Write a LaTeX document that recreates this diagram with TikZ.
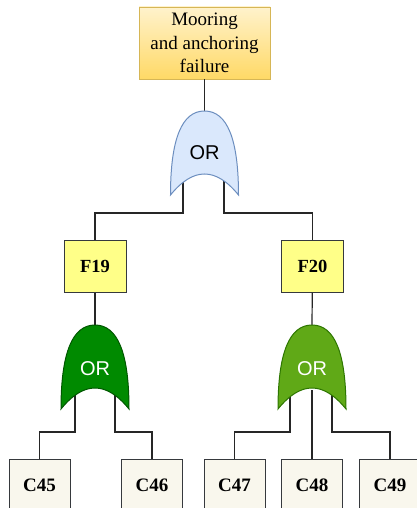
\documentclass[tikz,border=0pt]{standalone}
\usepackage{fontspec}
\setmainfont{Liberation Serif}
\newfontfamily\gatefont{Liberation Sans}
\definecolor{toptop}{HTML}{FFF2CC}
\definecolor{topbottom}{HTML}{FFD966}
\definecolor{topline}{HTML}{D6B656}
\definecolor{evfill}{HTML}{FFFF88}
\definecolor{basfill}{HTML}{F9F7ED}
\definecolor{boxline}{HTML}{36393D}
\definecolor{blufill}{HTML}{DAE8FC}
\definecolor{bluline}{HTML}{6C8EBF}
\definecolor{dkgfill}{HTML}{008A00}
\definecolor{dkgline}{HTML}{005700}
\definecolor{olvfill}{HTML}{60A917}
\definecolor{olvline}{HTML}{2D7600}
\begin{document}
\begin{tikzpicture}[
  x=1pt, y=-1pt,
  wire/.style={line width=1.2pt, draw=black!85},
  topbox/.style={rectangle, draw=topline, line width=0.9pt, top color=toptop, bottom color=topbottom,
    minimum width=131pt, minimum height=72pt, inner sep=0pt, align=center,
    font=\fontsize{19}{23.5}\selectfont},
  evbox/.style={rectangle, draw=boxline, line width=1pt, fill=evfill, minimum width=62pt,
    minimum height=52pt, inner sep=0pt, font=\bfseries\fontsize{18.5}{20}\selectfont},
  basbox/.style={rectangle, draw=boxline, line width=1pt, fill=basfill, minimum width=61pt,
    minimum height=52pt, inner sep=0pt, font=\bfseries\fontsize{19}{20}\selectfont},
  gatetext/.style={inner sep=0pt, font=\gatefont\fontsize{20}{20}\selectfont},
  pics/orgate/.style 2 args={code={
    \draw[fill=#1, draw=#2, line width=1pt] (-34,84) .. controls (-34,28) and (-22.7,0) .. (0,0)
      .. controls (22.7,0) and (34,28) .. (34,84)
      .. controls (11.3,56) and (-11.3,56) .. cycle;
  }}
]
  \useasboundingbox (0,0) rectangle (417,508);
  \clip (0,0) rectangle (417,508);

  % Events
  \node[topbox] (top) at (204.5,43) {Mooring\\and anchoring\\failure};
  \node[evbox] (f19) at (95,266) {F19};
  \node[evbox] (f20) at (312.5,266) {F20};

  % Basic causes
  \node[basbox] (c45) at (39.5,485) {C45};
  \node[basbox] (c46) at (152,485) {C46};
  \node[basbox] (c47) at (234.5,485) {C47};
  \node[basbox] (c48) at (312,485) {C48};
  \node[basbox] (c49) at (390,485) {C49};

  % Gate apexes and inputs
  \coordinate (g0top) at (204.5,111);
  \coordinate (g0l) at (183,175);
  \coordinate (g0r) at (224,175);
  \coordinate (g1top) at (95,325);
  \coordinate (g1l) at (75,390);
  \coordinate (g1r) at (115,390);
  \coordinate (g2top) at (312,325);
  \coordinate (g2l) at (290,390);
  \coordinate (g2m) at (312,390);
  \coordinate (g2r) at (332,390);

  % Wires
  \draw[wire] (top) -- (g0top);
  \draw[wire] (g0l) -- ++(0,38) -| (f19);
  \draw[wire] (g0r) -- ++(0,38) -| (f20);
  \draw[wire] (f19) -- (g1top);
  \draw[wire] (f20) -- (g2top);
  \draw[wire] (g1l) -- ++(0,42) -| (c45);
  \draw[wire] (g1r) -- ++(0,42) -| (c46);
  \draw[wire] (g2l) -- ++(0,42) -| (c47);
  \draw[wire] (g2m) -- (c48);
  \draw[wire] (g2r) -- ++(0,42) -| (c49);

  % OR gates on top of the wires
  \pic at (g0top) {orgate={blufill}{bluline}};
  \pic at (g1top) {orgate={dkgfill}{dkgline}};
  \pic at (g2top) {orgate={olvfill}{olvline}};
  \node[gatetext] (g0) at (204.5,153) {OR};
  \node[gatetext, white] (g1) at (95,369) {OR};
  \node[gatetext, white] (g2) at (312,369) {OR};
\end{tikzpicture}
\end{document}
